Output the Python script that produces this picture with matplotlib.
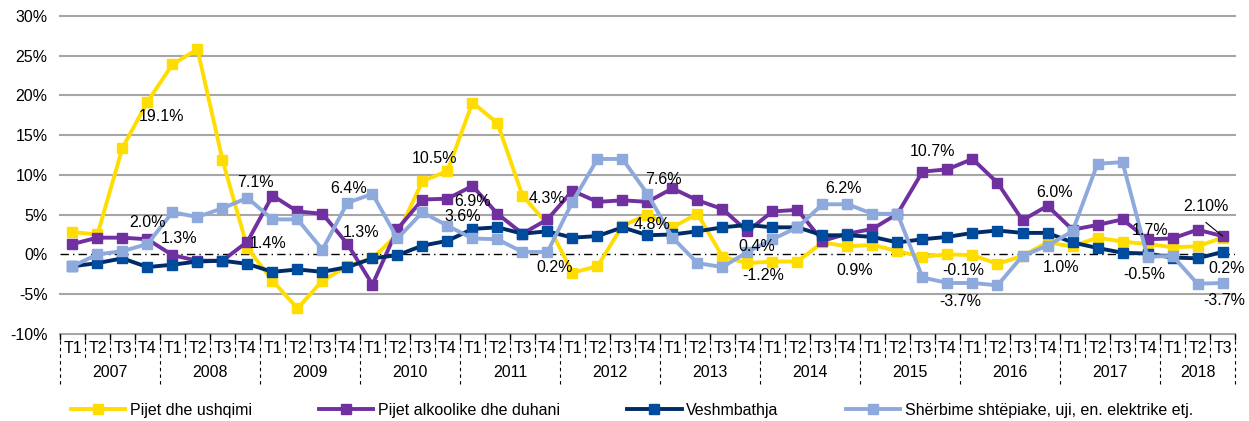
import numpy as np
import matplotlib
matplotlib.use("Agg")
import matplotlib.pyplot as plt
import matplotlib.transforms as mtransforms

plt.rcParams['font.family'] = ['Liberation Sans', 'DejaVu Sans']
FS = 11.5

years = ['2007', '2008', '2009', '2010', '2011', '2012', '2013', '2014',
         '2015', '2016', '2017', '2018']
quarters = ['T1', 'T2', 'T3', 'T4'] * 11 + ['T1', 'T2', 'T3']

# Vjetore, % ndryshim
ushqimi = [2.8, 2.5, 13.4, 19.2, 23.9, 25.8, 11.9, 0.8,
           -3.3, -6.8, -3.3, -1.5, -0.5, 2.5, 9.2, 10.5,
           19.1, 16.5, 7.4, 3.8, -2.3, -1.5, 3.6, 5.0,
           3.4, 5.1, -0.3, -1.1, -0.9, -0.9, 1.5, 1.0,
           1.2, 0.4, -0.3, 0.0, -0.1, -1.2, -0.2, 1.5,
           1.0, 2.1, 1.6, 1.3, 0.9, 1.0, 2.1]
alkoolike = [1.3, 2.1, 2.1, 1.9, -0.1, -0.8, -0.8, 1.6,
             7.4, 5.4, 5.1, 1.3, -3.8, 3.2, 6.9, 7.0,
             8.6, 5.1, 2.6, 4.4, 8.0, 6.6, 6.8, 6.6,
             8.3, 6.8, 5.7, 2.9, 5.4, 5.6, 1.7, 2.6,
             3.2, 5.1, 10.4, 10.7, 12.0, 9.0, 4.3, 6.1,
             3.1, 3.7, 4.4, 1.9, 2.0, 3.1, 2.3]
veshmbathja = [-1.5, -1.1, -0.5, -1.6, -1.3, -0.9, -0.8, -1.2,
               -2.2, -1.9, -2.2, -1.6, -0.5, -0.1, 1.1, 1.7,
               3.2, 3.4, 2.6, 2.9, 2.1, 2.3, 3.4, 2.4,
               2.5, 2.9, 3.4, 3.7, 3.4, 3.4, 2.4, 2.4,
               2.2, 1.5, 1.9, 2.2, 2.7, 3.0, 2.7, 2.7,
               1.5, 0.8, 0.2, 0.1, -0.4, -0.5, 0.3]
sherbime = [-1.5, 0.0, 0.4, 1.3, 5.3, 4.7, 5.8, 7.1,
            4.4, 4.4, 0.6, 6.5, 7.6, 2.0, 5.3, 3.6,
            2.0, 1.9, 0.3, 0.3, 6.6, 12.0, 12.0, 7.6,
            2.1, -1.1, -1.6, 0.3, 1.9, 3.4, 6.3, 6.3,
            5.1, 5.1, -2.9, -3.6, -3.6, -3.9, -0.2, 1.1,
            2.9, 11.4, 11.6, -0.3, -0.2, -3.7, -3.6]

# etiketat (teksti, pozicioni x, pozicioni y)
lbl_text = ['19.1%', '2.0%', '1.3%', '7.1%', '1.4%', '6.4%', '1.3%',
            '10.5%', '6.9%', '3.6%', '4.3%', '0.2%', '7.6%', '4.8%',
            '0.4%', '-1.2%', '6.2%', '0.9%', '10.7%', '-0.1%', '-3.7%',
            '6.0%', '1.0%', '2.10%', '1.7%', '-0.5%', '0.2%', '-3.7%']
lbl_x = [3.58, 3.02, 4.26, 7.3, 7.82, 11.06, 11.54,
         14.5, 16.02, 15.62, 18.98, 19.3, 23.62, 23.18,
         27.38, 27.62, 30.86, 31.3, 34.42, 35.62, 35.5,
         39.3, 39.54, 45.34, 43.1, 42.86, 46.18, 46.06]
lbl_y = [17.4, 4.0, 2.0, 9.0, 1.4, 8.3, 2.77,
         12.0, 6.68, 4.79, 7.05, -1.64, 9.45, 3.78,
         1.0, -2.64, 8.3, -2.02, 12.97, -2.02, -5.92,
         7.81, -1.64, 6.05, 3.02, -2.52, -1.76, -5.80]

fig = plt.figure(figsize=(12.49, 4.21), dpi=100)
ax = fig.add_axes([0.048, 0.207, 0.9408, 0.7553])

x = np.arange(len(quarters))
series = [
    (ushqimi, 'Pijet dhe ushqimi', '#FFDD00', '#FFDD00'),
    (alkoolike, 'Pijet alkoolike dhe duhani', '#7030A0', '#7030A0'),
    (veshmbathja, 'Veshmbathja', '#002B66', '#004C9E'),
    (sherbime, 'Shërbime shtëpiake, uji, en. elektrike etj.', '#8EA9DB', '#8EA9DB'),
]
for vals, name, lc, mc in series:
    ax.plot(x, vals, color=lc, lw=2.8, marker='s', ms=7,
            mfc=mc, mec=mc, label=name, zorder=3)

ax.set_xlim(-0.5, len(quarters) - 0.5)
ax.set_ylim(-10, 30)
yt = np.arange(-10, 31, 5)
ax.set_yticks(yt)
ax.set_yticklabels([f'{v}%' for v in yt], fontsize=FS)
ax.tick_params(axis='y', length=0, pad=9)
for v in yt:
    if v != 0:
        ax.axhline(v, color='#A6A6A6', lw=1.5, zorder=1, clip_on=False)
ax.axhline(0, color='black', lw=1, ls=(0, (6, 3, 1, 3)), zorder=2)
for s in ax.spines.values():
    s.set_visible(False)

# boshti i kategorive
ax.set_xticks(np.arange(-0.5, len(quarters), 1))
ax.set_xticklabels([])
ax.tick_params(axis='x', length=4, width=1, color='black', direction='out')
trans = mtransforms.blended_transform_factory(ax.transData, ax.transAxes)
for i, q in enumerate(quarters):
    ax.text(i, -0.047, q, transform=trans, ha='center', va='center', fontsize=FS)
for b in np.arange(-0.5, len(quarters), 1):
    is_year = (b + 0.5) % 4 == 0 or b == len(quarters) - 0.5
    y_end = -0.157 if is_year else -0.077
    ax.plot([b, b], [0, y_end], transform=trans, color='black', lw=0.8,
            ls=(0, (3, 3)), clip_on=False)
for k, yr in enumerate(years):
    start = 4 * k
    end = min(4 * k + 3, len(quarters) - 1)
    ax.text((start + end) / 2, -0.123, yr, transform=trans, ha='center',
            va='center', fontsize=FS)

for t, lx, ly in zip(lbl_text, lbl_x, lbl_y):
    ax.text(lx, ly, t, ha='center', va='center', fontsize=FS, zorder=5)
ax.plot([45.34, 46.0], [4.0, 2.3], color='black', lw=0.8, zorder=5)

fig.legend(loc='center', bbox_to_anchor=(0.506, 0.026), ncol=4, frameon=False,
           fontsize=FS, handlelength=3.4, columnspacing=4.2, handletextpad=0.3,
           borderaxespad=0, borderpad=0)

fig.savefig('out.png', dpi=100)
